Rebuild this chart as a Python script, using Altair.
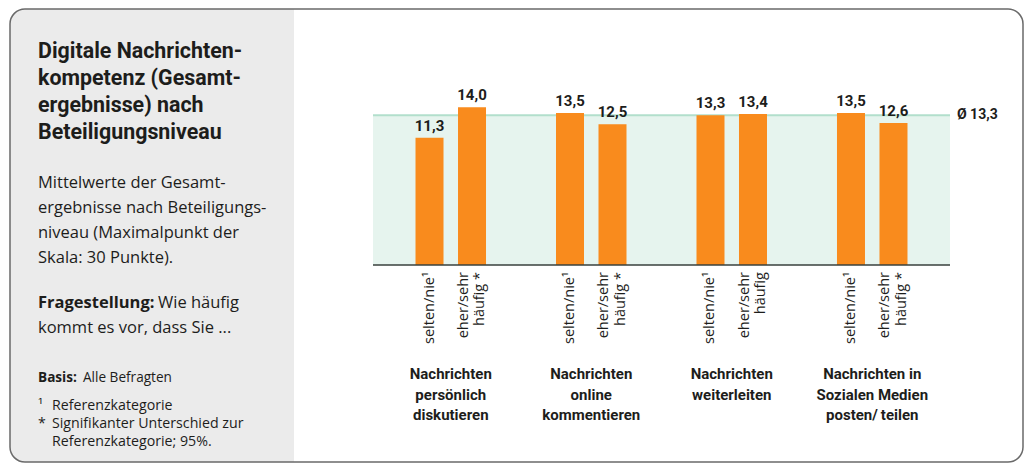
import altair as alt
import pandas as pd

FONT = "Roboto"
BODY = "Open Sans"
INK = "#1d1d1b"

# ---------------- data ----------------
groups = ["persönlich diskutieren", "online kommentieren", "weiterleiten", "Sozialen Medien posten/teilen"]
group_line1 = ["Nachrichten", "Nachrichten", "Nachrichten", "Nachrichten in"]
group_line2 = ["persönlich", "online", "weiterleiten", "Sozialen Medien"]
group_line3 = ["diskutieren", "kommentieren", "", "posten/\u2009teilen"]
low_label = ["selten/nie¹", "selten/nie¹", "selten/nie¹", "selten/nie¹"]
high_label1 = ["eher/sehr", "eher/sehr", "eher/sehr", "eher/sehr"]
high_label2 = ["häufig *", "häufig *", "häufig", "häufig *"]
low_values = [11.3, 13.5, 13.3, 13.5]
high_values = [14.0, 12.5, 13.4, 12.6]
mean_value = 13.3

title_lines = ["Digitale Nachrichten-", "kompetenz (Gesamt-", "ergebnisse) nach", "Beteiligungsniveau"]
subtitle_lines = ["Mittelwerte der Gesamt-", "ergebnisse nach Beteiligungs-", "niveau (Maximalpunkt der", "Skala: 30 Punkte)."]
question_bold = "Fragestellung:"
question_lines = ["Wie häufig", "kommt es vor, dass Sie ..."]
basis_bold = "Basis:"
basis_text = "Alle Befragten"
note_marks = ["¹", "*"]
note_lines = ["Referenzkategorie", "Signifikanter Unterschied zur", "Referenzkategorie; 95%."]


def fmt(v):
    return f"{v:.1f}".replace(".", ",")


df_low = pd.DataFrame({"group": groups, "value": low_values,
                       "label": [fmt(v) for v in low_values], "s1": low_label})
df_high = pd.DataFrame({"group": groups, "value": high_values,
                        "label": [fmt(v) for v in high_values], "s1": high_label1, "s2": high_label2})
gdf = pd.DataFrame({"group": groups, "l1": group_line1, "l2": group_line2, "l3": group_line3})
mdf = pd.DataFrame({"value": [mean_value], "zero": [0.0], "label": ["Ø " + fmt(mean_value)]})
one = pd.DataFrame({"k": [1]})

# ---------------- layout (plot area inside a full-size canvas) ----------------
PL, PT = 365, 88          # left / top padding of the plot area
PW, PH = 577, 169         # plot area size
CW, CH = 1016, 455        # whole canvas


def px(x):
    return x - PL


def py(y):
    return y - PT


xs = alt.X("group:N", sort=None,
           scale=alt.Scale(domain=groups, paddingInner=0.395, paddingOuter=0.251),
           axis=None)
ys = alt.Y("value:Q", scale=alt.Scale(domain=[0, 15], nice=False, zero=True), axis=None)
yzero = alt.Y("zero:Q", axis=None)
OFF = 21.25

# ---------------- frame ----------------
panel = alt.Chart(one).mark_rect(
    color="#ebebeb", cornerRadiusTopLeft=15, cornerRadiusBottomLeft=15
).encode(x=alt.value(px(2)), x2=alt.value(px(286)), y=alt.value(py(1)), y2=alt.value(py(454)))

border = alt.Chart(one).mark_rect(
    fillOpacity=0, stroke="#6a6a6a", strokeWidth=1.5, cornerRadius=15
).encode(x=alt.value(px(2)), x2=alt.value(px(1015)), y=alt.value(py(1)), y2=alt.value(py(454)))

# ---------------- plot ----------------
band = alt.Chart(mdf).mark_bar(color="#e6f4ee").encode(
    x=alt.value(0), x2=alt.value(PW), y=ys, y2="zero:Q"
)
mean_rule = alt.Chart(mdf).mark_rule(color="#b2dfcc", strokeWidth=2).encode(
    x=alt.value(0), x2=alt.value(PW), y=ys
)
base_rule = alt.Chart(mdf).mark_rule(color="#38403c", strokeWidth=1.5).encode(
    x=alt.value(0), x2=alt.value(PW), y=yzero
)
mean_label = alt.Chart(mdf).mark_text(
    font=FONT, fontSize=14, fontWeight="bold", align="left", baseline="middle", color=INK
).encode(x=alt.value(PW + 7), y=ys, text="label:N")


def sub_text(d, field, off, dy):
    return alt.Chart(d).mark_text(
        font=BODY, fontSize=14.5, angle=270, align="right", baseline="middle",
        dx=-7, dy=dy, xOffset=off, color=INK
    ).encode(x=xs, y=alt.value(PH), text=f"{field}:N")


def series_layers(d, off):
    bars = alt.Chart(d).mark_bar(color="#f98b1d", width=28, xOffset=off).encode(x=xs, y=ys)
    vals = alt.Chart(d).mark_text(
        font=FONT, fontSize=15, fontWeight="bold", baseline="alphabetic", dy=-7, xOffset=off, color=INK
    ).encode(x=xs, y=ys, text="label:N")
    return [bars, vals]


group_layers = [
    alt.Chart(gdf).mark_text(
        font=FONT, fontSize=15, fontWeight="bold", align="center", baseline="top", color=INK
    ).encode(x=xs, y=alt.value(py(359) + i * 20.5), text=f"{f}:N")
    for i, f in enumerate(["l1", "l2", "l3"])
]


# ---------------- left panel text ----------------
def block(lines, x, y, size, weight="normal", lh=20, font=BODY):
    return [
        alt.Chart(one).mark_text(
            text=line, font=font, fontSize=size, fontWeight=weight,
            align="left", baseline="top", color=INK
        ).encode(x=alt.value(px(x)), y=alt.value(py(y) + i * lh))
        for i, line in enumerate(lines)
    ]


text_layers = (
    block(title_lines, 30, 33.4, 21.4, "bold", 27, FONT)
    + block(subtitle_lines, 30, 166.5, 16.5, "normal", 25)
    + block([question_bold], 30, 287.3, 16.5, "bold")
    + block([question_lines[0]], 150, 287.3, 16.5, "normal")
    + block([question_lines[1]], 30, 312.3, 16.5, "normal")
    + block([basis_bold], 30, 363, 13.6, "bold")
    + block([basis_text], 75, 363, 13.6, "normal")
    + block(note_marks, 30, 390.8, 14.2, "normal", 18.3)
    + block(note_lines, 44, 390.8, 14.2, "normal", 18.3)
)

layers = [panel, border, band, mean_rule]
layers += series_layers(df_low, -OFF) + series_layers(df_high, OFF)
layers += [sub_text(df_low, "s1", -OFF, 0), sub_text(df_high, "s1", OFF, -8.25), sub_text(df_high, "s2", OFF, 8.25)]
layers += [base_rule, mean_label] + group_layers + text_layers

chart = alt.layer(*layers).properties(
    width=PW, height=PH, autosize="none", background="white",
    padding={"left": PL, "top": PT, "right": CW - PL - PW, "bottom": CH - PT - PH},
).configure_view(stroke="transparent")

chart.save("out.html", embed_options={"renderer": "svg", "actions": False})
